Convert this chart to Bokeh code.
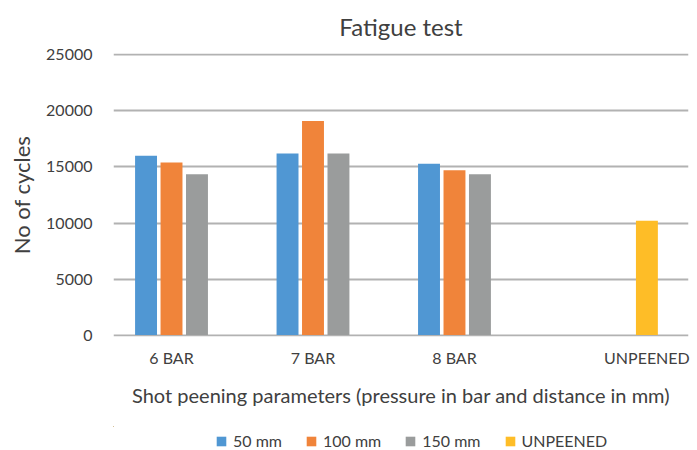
from bokeh.plotting import figure
from bokeh.layouts import column
from bokeh.models import (ColumnDataSource, Range1d, FixedTicker, Legend, LegendItem,
                          NumeralTickFormatter)
from bokeh.embed import file_html
from bokeh.resources import INLINE

# ---- data ----
categories = ["6 BAR", "7 BAR", "8 BAR", "UNPEENED"]
series_names = ["50 mm", "100 mm", "150 mm", "UNPEENED"]
mm50 = [16000, 16200, 15300, 0]
mm100 = [15400, 19100, 14700, 0]
mm150 = [14350, 16200, 14350, 0]
unpeened = [0, 0, 0, 10200]
y_ticks = [0, 5000, 10000, 15000, 20000, 25000]

# ---- style ----
colors = ["#5097d3", "#f0843a", "#9a9c9c", "#febd27"]
offsets = [-0.27, -0.09, 0.09, 0.27]
bar_w = 0.155
FONT = "Lato"
TXT = "#404040"

series = [mm50, mm100, mm150, unpeened]
idx = list(range(len(categories)))

p = figure(width=697, height=426, output_backend="svg", toolbar_location=None,
           x_range=Range1d(-0.5, 3.564), y_range=Range1d(-130, 25130),
           min_border_left=113, min_border_right=9, min_border_top=51,
           min_border_bottom=90, title="Fatigue test")
p.outline_line_color = None
p.background_fill_color = "white"

sources = []
for name, vals, col, off in zip(series_names, series, colors, offsets):
    src = ColumnDataSource(dict(x=[i + off for i in idx], top=vals))
    sources.append(src)
    p.vbar(x="x", top="top", bottom=0, width=bar_w, source=src,
           fill_color=col, line_color=None)

# tick labels centred under the bars present in each category
tick_pos = []
for i in idx:
    present = [off for vals, off in zip(series, offsets) if vals[i] > 0]
    tick_pos.append(i + sum(present) / len(present))

p.xaxis.ticker = FixedTicker(ticks=tick_pos)
p.xaxis.major_label_overrides = {t: c for t, c in zip(tick_pos, categories)}
p.xaxis.axis_line_color = None
p.xaxis.major_tick_line_color = None
p.xaxis.minor_tick_line_color = None
p.xaxis.major_label_text_font = FONT
p.xaxis.major_label_text_font_size = "16px"
p.xaxis.major_label_text_color = TXT
p.xaxis.major_label_standoff = 5
p.xaxis.axis_label = "Shot peening parameters (pressure in bar and distance in mm)"
p.xaxis.axis_label_text_font = FONT
p.xaxis.axis_label_text_font_style = "normal"
p.xaxis.axis_label_text_font_size = "20px"
p.xaxis.axis_label_text_color = TXT
p.xaxis.axis_label_standoff = 13

p.yaxis.ticker = FixedTicker(ticks=y_ticks)
p.yaxis.formatter = NumeralTickFormatter(format="0")
p.yaxis.axis_line_color = None
p.yaxis.major_tick_line_color = None
p.yaxis.minor_tick_line_color = None
p.yaxis.major_label_text_font = FONT
p.yaxis.major_label_text_font_size = "16px"
p.yaxis.major_label_text_color = TXT
p.yaxis.major_label_standoff = 15
p.yaxis.axis_label = "No of cycles"
p.yaxis.axis_label_text_font = FONT
p.yaxis.axis_label_text_font_style = "normal"
p.yaxis.axis_label_text_font_size = "22px"
p.yaxis.axis_label_text_color = TXT
p.yaxis.axis_label_standoff = 8

p.xgrid.grid_line_color = None
p.ygrid.ticker = FixedTicker(ticks=y_ticks)
p.ygrid.grid_line_color = "#b2b2b2"
p.ygrid.grid_line_width = 2

p.title.text_font = FONT
p.title.text_font_style = "normal"
p.title.text_font_size = "24px"
p.title.text_color = TXT
p.title.align = "center"
p.title.vertical_align = "top"
p.title.standoff = 22

# ---- legend strip below the chart (same frame borders as the chart) ----
p2 = figure(width=697, height=24, output_backend="svg", toolbar_location=None,
            x_range=Range1d(10, 11), y_range=Range1d(-2, -1),
            x_axis_type=None, y_axis_type=None,
            min_border_left=113, min_border_right=9, min_border_top=0,
            min_border_bottom=0)
p2.outline_line_color = None
p2.grid.visible = False
items = []
for name, col, src in zip(series_names, colors, sources):
    # same data; this strip's ranges keep the bars out of view, only the legend shows
    r = p2.vbar(x="x", top="top", bottom=0, width=bar_w, source=src,
                fill_color=col, line_color=None)
    items.append(LegendItem(label=name, renderers=[r]))

legend = Legend(items=items, orientation="horizontal", location=(102, 0),
                glyph_width=12, glyph_height=12, label_text_font=FONT,
                label_text_font_size="16px", label_text_color=TXT,
                label_height=16, label_standoff=6, spacing=23,
                border_line_color=None, background_fill_alpha=0,
                padding=0, margin=0)
p2.add_layout(legend, "center")

layout = column(p, p2, spacing=0)
open("out.html", "w").write(file_html(layout, INLINE))
